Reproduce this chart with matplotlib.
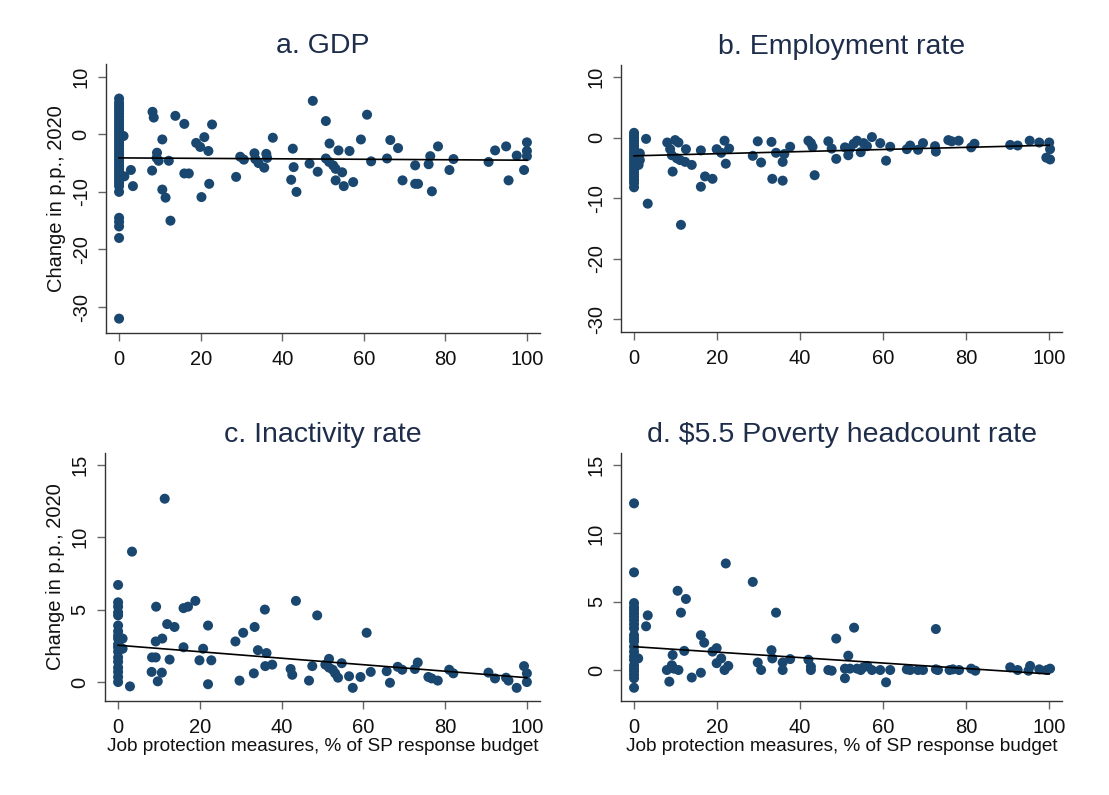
import numpy as np
import matplotlib
matplotlib.use("Agg")
import matplotlib.pyplot as plt

# ---------------- data ----------------
# Panel a: GDP
a_x0_y = [6.2, 5.5, 5.0, 4.5, 4.0, 3.5, 3.0, 2.5, 2.0, 1.5, 1.0, 0.5, 0.0, -0.5, -1.0, -1.5,
          -2.0, -2.5, -3.0, -3.5, -4.0, -4.5, -5.0, -5.5, -6.0, -6.5, -7.0, -7.5, -8.0, -8.5,
          -9.0, -10.0, -14.5, -15.2, -16.0, -18.0, -32.0]
a_x = [1.1, 1.3, 2.9, 3.4, 8.2, 8.5, 8.1, 9.3, 9.2, 9.7, 10.6, 10.6, 11.4, 12.2, 12.6, 13.8,
       16.0, 16.0, 17.1, 18.9, 19.9, 20.2, 20.9, 21.9, 22.1, 22.8, 28.7, 29.7, 30.6, 33.2,
       33.4, 34.2, 35.6, 36.1, 36.3, 37.7, 42.2, 42.6, 42.8, 43.5, 46.7, 47.5, 48.7, 50.7,
       50.7, 51.5, 51.6, 52.5, 53.1, 53.1, 53.8, 54.7, 55.1, 56.5, 57.4, 59.3, 60.8, 61.8,
       65.7, 66.5, 68.4, 69.5, 72.6, 72.6, 73.3, 75.9, 76.3, 76.7, 78.2, 81.0, 82.0, 90.6,
       92.2, 94.9, 95.5, 97.5, 99.3, 100.0, 100.0, 100.0]
a_y = [-0.3, -7.3, -6.2, -9.0, 3.9, 2.9, -6.3, -3.2, -4.1, -4.6, -0.9, -9.6, -11.0, -4.6,
       -15.0, 3.2, 1.8, -6.8, -6.8, -1.5, -2.2, -10.9, -0.5, -2.9, -8.6, 1.7, -7.4, -3.9,
       -4.4, -3.3, -4.3, -5.0, -5.8, -3.4, -4.1, -0.6, -7.9, -2.5, -5.7, -10.0, -5.1, 5.8,
       -6.5, 2.3, -4.2, -4.8, -1.6, -5.4, -6.0, -8.0, -2.8, -6.6, -9.0, -2.9, -8.3, -0.9,
       3.4, -4.7, -4.2, -1.0, -2.4, -8.0, -5.4, -8.6, -8.6, -5.2, -3.8, -9.9, -2.1, -6.2,
       -4.3, -4.8, -2.8, -2.1, -8.0, -3.7, -6.2, -1.4, -2.9, -3.8]

# Panel b: Employment rate
b_x0_y = [0.8, 0.3, 0.0, -0.5, -1.0, -1.5, -2.0, -2.5, -3.0, -3.5, -4.0, -4.5, -5.0, -5.5,
          -6.0, -6.5, -7.0, -7.5, -8.2]
b_x = [1.4, 1.4, 1.1, 2.9, 3.3, 8.0, 8.7, 9.3, 9.9, 10.7, 9.1, 10.3, 11.1, 11.3, 12.5, 12.3,
       13.9, 16.1, 16.1, 17.1, 18.9, 19.9, 21.0, 21.8, 22.1, 22.9, 28.6, 29.8, 30.6, 33.1,
       33.3, 34.2, 35.8, 35.8, 36.2, 37.6, 42.0, 42.6, 43.0, 43.5, 46.8, 47.6, 48.7, 50.8,
       51.6, 52.0, 52.9, 53.7, 54.6, 55.3, 56.1, 57.3, 59.3, 60.7, 61.7, 65.7, 66.5, 68.4,
       69.6, 72.5, 72.7, 75.7, 76.5, 78.2, 81.2, 82.0, 90.6, 92.4, 95.3, 97.6, 99.3, 100.0,
       100.2, 100.2]
b_y = [-2.6, -3.7, -4.5, -0.2, -10.9, -0.8, -1.9, -5.6, -0.4, -0.8, -2.9, -3.4, -3.7, -14.4,
       -1.9, -4.0, -4.5, -2.1, -8.1, -6.4, -6.8, -1.9, -2.5, -0.5, -4.3, -1.8, -3.0, -0.6,
       -4.1, -0.7, -6.8, -2.5, -4.0, -7.1, -2.7, -1.5, -0.5, -0.9, -1.5, -6.2, -0.6, -1.8,
       -3.5, -1.6, -2.9, -1.8, -1.0, -0.5, -2.4, -0.9, -1.4, 0.1, -0.9, -3.8, -1.5, -1.9,
       -1.3, -2.0, -0.9, -1.4, -2.3, -0.4, -0.6, -0.5, -1.6, -1.0, -1.2, -1.3, -0.5, -0.8,
       -3.3, -0.8, -1.9, -3.6]

# Panel c: Inactivity rate
c_x0_y = [6.7, 5.5, 5.2, 4.8, 4.6, 3.9, 3.5, 3.2, 3.0, 2.6, 2.4, 2.1, 1.7, 1.4, 1.0, 0.7,
          0.35, 0.0]
c_x = [1.1, 1.1, 2.9, 3.4, 8.2, 8.3, 9.2, 9.3, 9.2, 9.7, 10.8, 10.7, 11.4, 12.0, 12.6, 13.8,
       16.0, 16.0, 17.1, 18.9, 19.9, 20.8, 22.0, 22.0, 22.8, 28.7, 29.7, 30.6, 33.2, 33.4,
       34.2, 35.9, 36.0, 36.3, 37.7, 42.2, 42.6, 43.5, 46.7, 47.5, 48.7, 50.7, 51.6, 51.6,
       52.5, 53.1, 53.8, 54.7, 56.5, 57.4, 59.3, 60.8, 61.8, 65.7, 66.5, 68.4, 69.5, 72.6,
       73.3, 75.9, 76.7, 78.2, 81.0, 82.0, 90.6, 92.2, 94.9, 95.5, 97.5, 99.3, 100.0, 100.0]
c_y = [3.0, 2.3, -0.3, 9.0, 0.7, 1.7, 1.7, 5.2, 2.8, 0.05, 3.0, 0.65, 12.65, 4.0, 1.55, 3.8,
       2.4, 5.1, 5.2, 5.6, 1.5, 2.3, 3.9, -0.15, 1.5, 2.8, 0.1, 3.4, 0.6, 3.8, 2.2, 5.0, 1.1,
       2.0, 1.2, 0.9, 0.5, 5.6, 0.1, 1.1, 4.6, 1.2, 1.6, 1.0, 0.85, 0.6, 0.3, 1.3, 0.4, -0.4,
       0.35, 3.4, 0.7, 0.75, -0.05, 1.05, 0.85, 0.9, 1.35, 0.35, 0.25, 0.1, 0.85, 0.6, 0.65,
       0.25, 0.3, 0.1, -0.4, 1.1, 0.6, 0.0]

# Panel d: $5.5 poverty headcount rate
d_x0_y = [12.2, 7.15, 4.9, 4.6, 4.4, 4.15, 3.9, 3.65, 3.35, 3.05, 2.55, 2.3, 2.1, 1.7, 1.35,
          1.0, 0.75, 0.35, 0.1, -0.1, -0.35, -0.6, -1.3]
d_x = [1.0, 2.9, 3.3, 7.9, 8.5, 9.3, 9.1, 9.6, 10.7, 10.5, 11.3, 12.1, 12.5, 13.9, 16.1, 16.1,
       16.9, 18.9, 19.9, 19.9, 21.0, 21.8, 22.1, 22.7, 28.6, 29.8, 30.6, 33.1, 33.3, 34.2,
       35.8, 35.8, 37.6, 42.0, 42.6, 42.6, 46.8, 47.6, 48.7, 50.8, 50.8, 51.6, 52.0, 53.0,
       53.7, 54.6, 55.3, 56.2, 57.3, 59.3, 60.7, 61.7, 65.7, 66.5, 68.4, 69.6, 72.7, 72.7,
       73.2, 76.0, 76.8, 78.3, 81.2, 82.2, 90.6, 92.4, 95.0, 95.4, 97.6, 99.4, 100.2]
d_y = [0.85, 3.2, 4.0, 0.0, -0.85, 1.1, 0.35, 0.1, 0.0, 5.8, 4.2, 1.4, 5.2, -0.55, 2.55, -0.2,
       2.0, 1.35, 1.6, 0.5, 0.85, 0.0, 7.8, 0.3, 6.45, 0.55, 0.0, 1.45, 0.85, 4.2, 0.55, 0.0,
       0.8, 0.75, 0.25, 0.0, 0.0, -0.05, 2.3, -0.6, 0.1, 1.05, 0.1, 3.1, 0.1, 0.0, 0.2, 0.3,
       0.0, 0.0, -0.9, 0.0, 0.05, 0.0, 0.0, 0.0, 3.0, 0.05, 0.0, 0.0, 0.05, 0.0, 0.1, -0.05,
       0.2, 0.0, -0.05, 0.3, 0.05, 0.0, 0.1]

# Linear fit lines (intercept at x=0, slope per unit x)
fit_intercept = [-4.1, -3.0, 2.54, 1.71]
fit_slope = [-0.004, 0.0175, -0.0224, -0.020]
fit_range = [0.0, 100.0]

titles = ["a. GDP", "b. Employment rate", "c. Inactivity rate", "d. $5.5 Poverty headcount rate"]
ylabel = "Change in p.p., 2020"
xlabel = "Job protection measures, % of SP response budget"
x_ticks = [0, 20, 40, 60, 80, 100]
y_ticks_top = [-30, -20, -10, 0, 10]
y_ticks_bottom = [0, 5, 10, 15]

# ---------------- figure ----------------
plt.rcParams['font.family'] = ['Liberation Sans', 'DejaVu Sans']
plt.rcParams['axes.unicode_minus'] = False

fig = plt.figure(figsize=(11.09, 7.95), dpi=100)
fig.patch.set_facecolor('white')

positions = [
    [0.0956, 0.5811, 0.3913, 0.3384],
    [0.5600, 0.5824, 0.3977, 0.3358],
    [0.0947, 0.1182, 0.3922, 0.3119],
    [0.5600, 0.1182, 0.3977, 0.3119],
]
xlims = [(-3.2, 103.2), (-3.13, 103.1), (-3.2, 103.2), (-3.13, 103.1)]
ylims = [(-34.5, 12.2), (-32.1, 12.0), (-1.31, 15.8), (-2.27, 15.88)]

xs = [a_x, b_x, c_x, d_x]
ys = [a_y, b_y, c_y, d_y]
x0ys = [a_x0_y, b_x0_y, c_x0_y, d_x0_y]

dot = '#1a476f'
title_col = '#1e2d4a'

for i in range(4):
    ax = fig.add_axes(positions[i])
    xx = np.concatenate([np.zeros(len(x0ys[i])), np.array(xs[i])])
    yy = np.concatenate([np.array(x0ys[i]), np.array(ys[i])])
    ax.scatter(xx, yy, s=52, color=dot, edgecolors='none', zorder=3)
    fx = np.array(fit_range)
    ax.plot(fx, fit_intercept[i] + fit_slope[i] * fx, color='black', lw=1.2, zorder=4)
    ax.set_xlim(*xlims[i])
    ax.set_ylim(*ylims[i])
    ax.set_xticks(x_ticks)
    ax.set_yticks(y_ticks_top if i < 2 else y_ticks_bottom)
    for s in ['top', 'right']:
        ax.spines[s].set_visible(False)
    for s in ['left', 'bottom']:
        ax.spines[s].set_color('#333333')
        ax.spines[s].set_linewidth(1.0)
    ax.tick_params(axis='x', direction='out', length=6, width=1.0, color='#666666',
                   labelsize=14.5, labelcolor='#111111', pad=6)
    ax.tick_params(axis='y', direction='out', length=6, width=1.0, color='#666666',
                   labelsize=14.5, labelcolor='#111111', pad=5)
    for lab in ax.get_yticklabels():
        lab.set_rotation(90)
        lab.set_va('center')
    ax.set_title(titles[i], fontsize=20.5, color=title_col, pad=8)
    if i % 2 == 0:
        ax.set_ylabel(ylabel, fontsize=14.5, color='#111111', labelpad=4)
    if i >= 2:
        ax.set_xlabel(xlabel, fontsize=13.7, color='#111111', labelpad=1)

fig.savefig('out.png', dpi=100, facecolor='white')
